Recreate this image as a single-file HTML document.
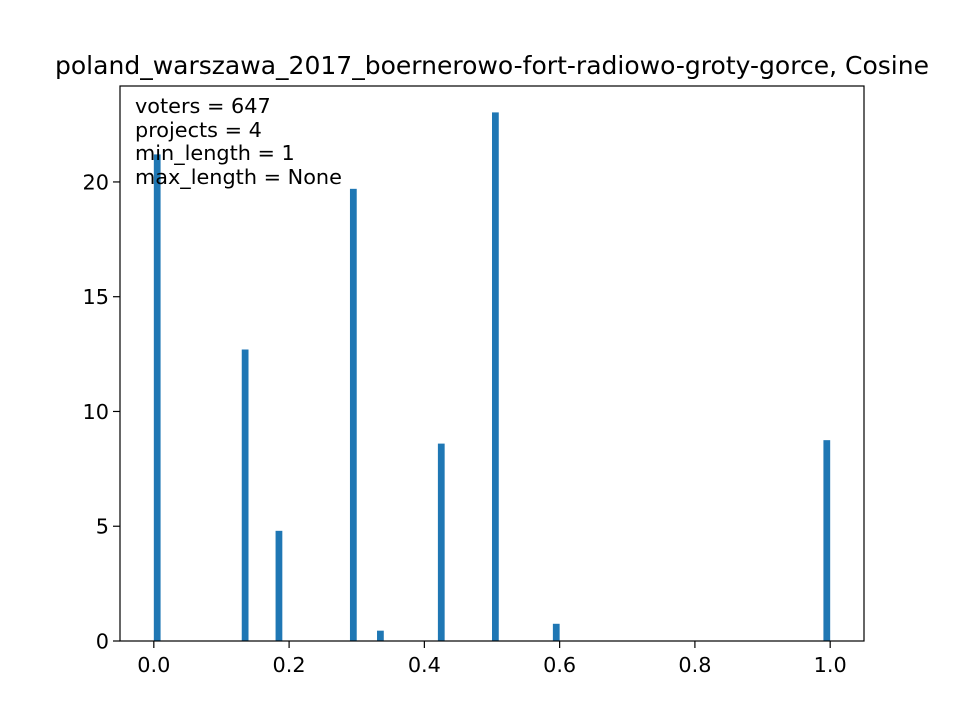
<!DOCTYPE html>
<html><head><meta charset="utf-8"><style>body{margin:0;background:#fff}svg{display:block;font-family:"DejaVu Sans",sans-serif}</style></head>
<body>
<svg id="chart" width="960" height="720" xmlns="http://www.w3.org/2000/svg">
<rect width="960" height="720" fill="#fff"/>
<text x="492" y="74" font-size="25" text-anchor="middle" textLength="874" lengthAdjust="spacingAndGlyphs">poland_warszawa_2017_boernerowo-fort-radiowo-groty-gorce, Cosine</text>
<g id="bars"></g>
<g id="axes"></g>
<g font-size="20.8">
<text x="135" y="113">voters = 647</text>
<text x="135" y="137">projects = 4</text>
<text x="135" y="160">min_length = 1</text>
<text x="135" y="184">max_length = None</text>
</g>
</svg>
<script>
const binStarts = [0.0, 0.13, 0.18, 0.29, 0.33, 0.42, 0.50, 0.59, 0.99];
const binValues = [21.2, 12.7, 4.8, 19.7, 0.45, 8.6, 23.03, 0.75, 8.75];
const binWidth = 0.01;
const xTicks = [0, 0.2, 0.4, 0.6, 0.8, 1.0];
const xTickLabels = ["0.0","0.2","0.4","0.6","0.8","1.0"];
const yTicks = [0, 5, 10, 15, 20];
const yTickLabels = ["0","5","10","15","20"];
const L=120,R=864,T=86,B=641, xmin=-0.05,xmax=1.05, ymin=0,ymax=24.18;
const x=v=>L+(v-xmin)/(xmax-xmin)*(R-L);
const y=v=>B-(v-ymin)/(ymax-ymin)*(B-T);
const NS="http://www.w3.org/2000/svg";
const bars=document.getElementById('bars'), axes=document.getElementById('axes');
function mk(tag,attrs,parent){const e=document.createElementNS(NS,tag);for(const k in attrs)e.setAttribute(k,attrs[k]);parent.appendChild(e);return e;}
binStarts.forEach((s,i)=>{
  const r=mk('rect',{x:x(s),y:y(binValues[i]),width:x(s+binWidth)-x(s),height:y(0)-y(binValues[i]),fill:'#1f77b4'},bars);
  
  
});
const frame=mk('rect',{x:L,y:T,width:R-L,height:B-T,fill:'none',stroke:'#000','stroke-width':1.2},axes);


xTicks.forEach((v,i)=>{
  mk('line',{x1:x(v),x2:x(v),y1:B,y2:B+7,stroke:'#000','stroke-width':1.2},axes);
  const t=mk('text',{x:x(v),y:B+31,'font-size':20.8,'text-anchor':'middle'},axes);
  t.textContent=xTickLabels[i];
  
  
});
yTicks.forEach((v,i)=>{
  mk('line',{x1:L-7,x2:L,y1:y(v),y2:y(v),stroke:'#000','stroke-width':1.2},axes);
  const t=mk('text',{x:L-11,y:y(v)+7.5,'font-size':20.8,'text-anchor':'end'},axes);
  t.textContent=yTickLabels[i];
  
  
});
</script>
</body></html>
